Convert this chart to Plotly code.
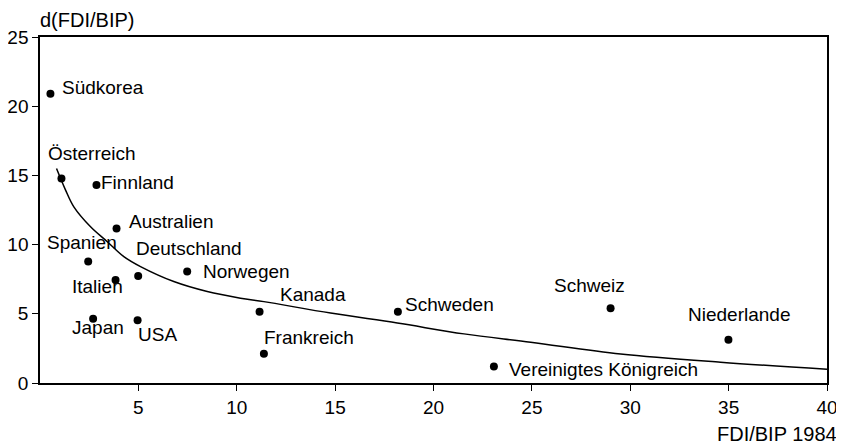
import plotly.graph_objects as go

# Länderdaten
laender = ['Südkorea', 'Österreich', 'Finnland', 'Australien', 'Spanien', 'Deutschland',
           'Norwegen', 'Italien', 'Japan', 'USA', 'Kanada', 'Frankreich', 'Schweden',
           'Vereinigtes Königreich', 'Schweiz', 'Niederlande']
fdi_bip_1984 = [0.53, 1.09, 2.87, 3.89, 2.45, 4.99, 7.48, 3.84, 2.70, 4.96, 11.16, 11.38,
                18.19, 23.07, 29.0, 34.99]
d_fdi_bip = [20.9, 14.78, 14.3, 11.17, 8.77, 7.74, 8.05, 7.45, 4.64, 4.54, 5.14, 2.11,
             5.14, 1.2, 5.41, 3.12]

# Regressionskurve
kurve_x = [0.84, 1.30, 1.72, 2.57, 3.42, 4.26, 5.11, 6.80, 8.50, 10.19, 11.38, 14.77,
           18.16, 21.55, 24.94, 29.51, 34.59, 40.0]
kurve_y = [15.5, 13.94, 12.73, 11.29, 10.21, 9.13, 8.41, 7.33, 6.61, 6.13, 5.88, 5.05,
           4.33, 3.55, 2.95, 2.1, 1.5, 1.0]

x_ticks = [5, 10, 15, 20, 25, 30, 35, 40]
y_ticks = [0, 5, 10, 15, 20, 25]

# Beschriftungsversatz in Pixel (links, vertikal)
label_dx = [10, -15, 3, 10, -43, -4, 14, -46, -23, -2, 18, -2, 5, 13, -59, -42]
label_dy = [-6, -25, -3, -7, -19, -27, 0, 7, 9, 14, -17, -16, -7, 3, -23, -25]

FONT = 'Liberation Sans, Arial, sans-serif'

fig = go.Figure()

fig.add_trace(go.Scatter(
    x=kurve_x, y=kurve_y, mode='lines',
    line=dict(color='black', width=1.5, shape='spline'),
    hoverinfo='skip', showlegend=False
))

fig.add_trace(go.Scatter(
    x=fdi_bip_1984, y=d_fdi_bip, mode='markers',
    marker=dict(color='black', size=8),
    text=laender, showlegend=False
))

for name, x, y, dx, dy in zip(laender, fdi_bip_1984, d_fdi_bip, label_dx, label_dy):
    fig.add_annotation(
        x=x, y=y, text=name, showarrow=False,
        xanchor='left', yanchor='middle', xshift=dx, yshift=-dy,
        font=dict(family=FONT, size=19, color='black')
    )

# Achsentitel
fig.add_annotation(
    xref='paper', yref='paper', x=0, y=1, text='d(FDI/BIP)', showarrow=False,
    xanchor='left', yanchor='bottom', xshift=-2, yshift=4,
    font=dict(family=FONT, size=20, color='black')
)
fig.add_annotation(
    xref='paper', yref='paper', x=1, y=0, text='FDI/BIP 1984', showarrow=False,
    xanchor='right', yanchor='top', xshift=12, yshift=-38,
    font=dict(family=FONT, size=20, color='black')
)

fig.update_xaxes(
    range=[0, 40], tickvals=x_ticks, ticks='outside', ticklen=6, tickcolor='black',
    showline=True, linecolor='black', linewidth=1.5, mirror=True,
    showgrid=False, zeroline=False, automargin=False,
    tickfont=dict(family=FONT, size=19, color='black')
)
fig.update_yaxes(
    range=[0, 25], tickvals=y_ticks, ticks='outside', ticklen=6, tickcolor='black',
    showline=True, linecolor='black', linewidth=1.5, mirror=True,
    showgrid=False, zeroline=False, automargin=False,
    tickfont=dict(family=FONT, size=19, color='black')
)

# Seite hat 8px Rand, daher etwas kleiner
fig.update_layout(
    width=836, height=438,
    margin=dict(l=32, r=17, t=29, b=63),
    plot_bgcolor='white', paper_bgcolor='white',
    font=dict(family=FONT, color='black')
)

fig.write_html("out.html")
